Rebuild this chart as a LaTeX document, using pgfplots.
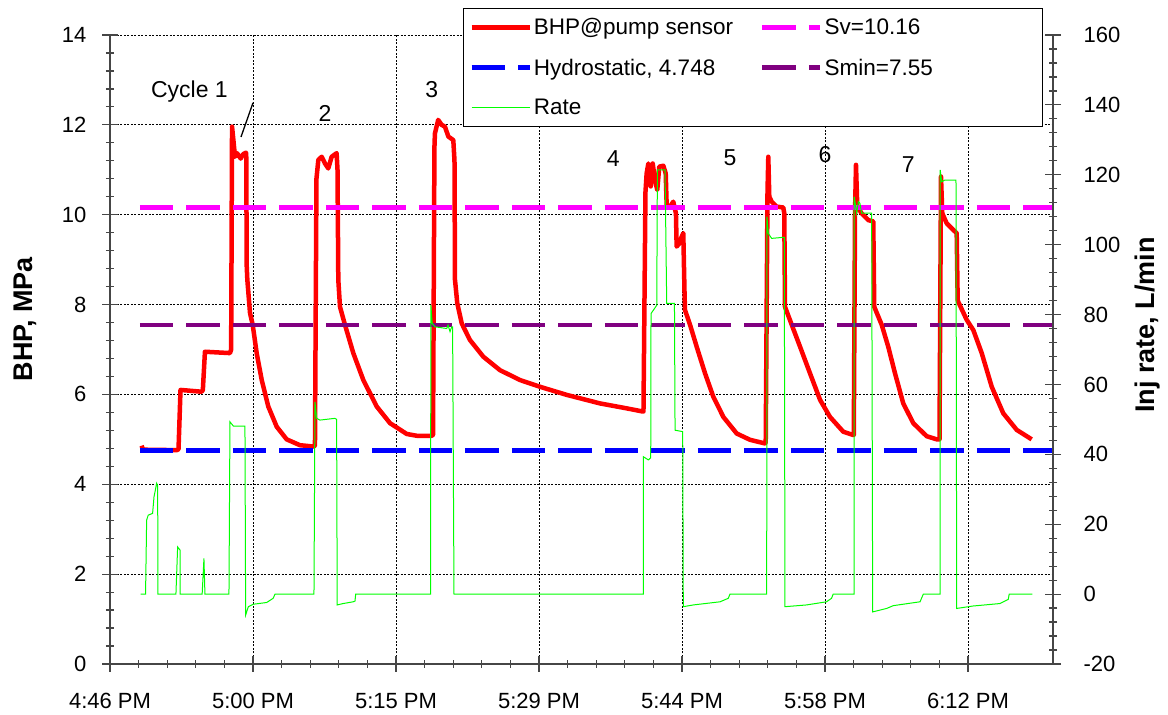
\documentclass[border=0pt]{standalone}
\usepackage{pgfplots}
\pgfplotsset{compat=1.18}
\usepackage{fontspec}
\setmainfont{Liberation Sans}

\definecolor{bhpred}{RGB}{255,0,0}
\definecolor{svmag}{RGB}{255,0,255}
\definecolor{hydblue}{RGB}{0,0,255}
\definecolor{sminpur}{RGB}{128,0,128}
\definecolor{rategreen}{RGB}{0,255,0}
\definecolor{axisgray}{RGB}{70,70,70}

\newcommand{\tickfont}{\fontsize{22}{26}\selectfont}
\newcommand{\legfont}{\fontsize{22.5}{27}\selectfont}
\newcommand{\labfont}{\fontsize{27}{32}\selectfont\bfseries}
\newcommand{\notefont}{\fontsize{23}{27}\selectfont}

% x is minutes after the 4:46 PM tick; one major tick every 14.4 min
\pgfplotsset{
  commonaxis/.style={
    scale only axis, width=943pt, height=629pt,
    at={(110pt,51pt)}, anchor=south west,
    xmin=0, xmax=94.96,
    tick label style={font=\tickfont},
    /pgf/number format/assume math mode=true,
    axis line style={axisgray, line width=1.2pt},
    tick style={axisgray, line width=1.2pt},
    tick align=center,
    major tick length=16pt,
    minor tick length=8pt,
  },
  levelline/.style={line width=4.5pt, dash pattern=on 33.5pt off 13pt},
}

\begin{document}
\begin{tikzpicture}
\useasboundingbox (0,0) rectangle (1168pt,715pt);

% ---------- pressure axis (left) ----------
\begin{axis}[commonaxis,
  axis x line*=bottom, axis y line*=left,
  ymin=0, ymax=14, ytick={0,2,...,14}, minor y tick num=4,
  xtick={0,14.4,28.8,43.2,57.6,72,86.4}, minor x tick num=4,
  xticklabels={4:46 PM,5:00 PM,5:15 PM,5:29 PM,5:44 PM,5:58 PM,6:12 PM},
  xticklabel style={yshift=-17.5pt},
  yticklabel style={xshift=-12pt},
  grid=major,
  grid style={black, line width=0.8pt, dash pattern=on 2pt off 1.5pt},
  every axis y label/.style={at={(rel axis cs:-0.0901,0.5485)}, rotate=90,
    anchor=center, font=\labfont},
  ylabel={BHP, MPa},
]
\addplot[bhpred, line width=4.5pt, line join=round] coordinates {
(3.19,4.86) (3.32,4.77) (6.72,4.76) (6.90,4.78) (7.10,6.10) (9.23,6.06)
(9.35,6.10) (9.56,6.95) (12.08,6.92) (12.20,7.00) (12.29,11.96) (12.59,11.29)
(12.79,11.37) (13.16,11.25) (13.42,11.35) (13.70,11.38) (13.72,11.30) (13.77,8.84)
(13.83,8.55) (14.10,7.81) (14.37,7.55) (14.77,6.92) (15.28,6.32) (15.94,5.73)
(16.79,5.28) (17.79,5.00) (19.13,4.87) (20.47,4.84) (20.64,4.86)
(20.79,10.80) (20.98,11.22) (21.32,11.29) (21.65,11.14) (21.98,11.03)
(22.32,11.29) (22.82,11.37) (22.91,11.00) (22.99,8.55) (23.16,7.95) (23.66,7.55)
(24.50,6.92) (25.51,6.32) (26.86,5.73) (28.20,5.36) (29.88,5.12) (30.88,5.08)
(32.39,5.08) (32.53,5.10) (32.67,11.50)
(32.72,11.81) (33.05,12.11) (33.39,12.00) (33.73,11.96) (34.07,11.74) (34.57,11.66)
(34.69,11.20) (34.74,8.55) (34.97,8.03) (35.42,7.58) (36.25,7.21) (37.59,6.84)
(39.27,6.54) (41.29,6.32) (43.30,6.17) (45.99,5.99) (49.34,5.80) (52.03,5.69)
(53.64,5.62) (53.72,5.62) (53.92,10.50) (54.04,10.92) (54.21,11.14) (54.45,10.63)
(54.65,11.14) (54.88,10.77) (55.11,10.55) (55.31,11.07) (55.72,11.09) (55.96,10.92)
(56.06,10.18) (56.39,10.18) (56.72,10.29) (56.99,10.03) (57.06,9.29) (57.33,9.36)
(57.57,9.51) (57.73,9.59) (57.85,8.30) (57.90,7.88) (58.41,7.55) (59.08,7.06)
(59.92,6.47) (60.75,5.95) (61.76,5.50) (63.11,5.13) (64.45,4.99) (65.93,4.91)
(66.03,4.92) (66.21,10.50) (66.29,11.29) (66.39,10.40) (66.63,10.29) (67.13,10.18)
(67.80,10.16) (67.90,10.03) (67.97,7.95) (68.65,7.55) (69.49,7.06) (70.49,6.47)
(71.50,5.88) (72.50,5.50) (73.84,5.17) (74.79,5.10) (74.90,5.10) (75.02,10.00)
(75.12,11.11) (75.25,10.18) (75.69,10.03) (76.36,9.88) (76.86,9.85) (76.96,7.95)
(77.71,7.55) (78.37,7.06) (79.05,6.47) (79.88,5.80) (80.89,5.36) (82.24,5.07)
(83.25,5.00) (83.53,5.00) (83.68,10.85) (83.81,10.03) (84.25,9.81)
(84.92,9.66) (85.26,9.59) (85.36,8.10) (85.42,8.06) (86.27,7.66) (86.94,7.43)
(87.78,6.92) (88.79,6.17) (89.95,5.58) (91.31,5.21) (92.81,5.00)
};
\addplot[svmag, levelline] coordinates {(3.02,10.16) (94.96,10.16)};
\addplot[hydblue, levelline] coordinates {(3.02,4.748) (94.96,4.748)};
\addplot[sminpur, levelline] coordinates {(3.02,7.55) (94.96,7.55)};

\node[font=\notefont] at (axis cs:8.0,12.75) {Cycle 1};
\draw[black, line width=1.3pt] (axis cs:14.40,12.49) -- (axis cs:13.19,11.73);
\node[font=\notefont] at (axis cs:21.65,12.26) {2};
\node[font=\notefont] at (axis cs:32.39,12.78) {3};
\node[font=\notefont] at (axis cs:50.68,11.26) {4};
\node[font=\notefont] at (axis cs:62.43,11.26) {5};
\node[font=\notefont] at (axis cs:72.00,11.33) {6};
\node[font=\notefont] at (axis cs:80.39,11.11) {7};
\end{axis}

% ---------- injection rate axis (right) ----------
\begin{axis}[commonaxis,
  axis x line=none, axis y line*=right,
  ymin=-20, ymax=160, ytick={-20,0,...,160}, minor y tick num=4,
  yticklabel style={xshift=19pt},
  every axis y label/.style={at={(rel axis cs:1.1007,0.539)}, rotate=90,
    anchor=center, font=\labfont},
  ylabel={Inj rate, L/min},
  legend columns=2, legend cell align=left,
  legend image code/.code={\draw[#1] (0pt,0pt) -- (58pt,0pt);},
  legend style={at={(0.3743,1.0429)}, anchor=north west, draw=black,
    line width=1pt, fill=white, font=\legfont, inner xsep=6pt, inner ysep=8pt,
    row sep=18.5pt, /tikz/every even column/.append style={column sep=25pt}},
]
\addlegendimage{bhpred, line width=4.5pt}
\addlegendentry{BHP@pump sensor}
\addlegendimage{svmag, levelline}
\addlegendentry{Sv=10.16}
\addlegendimage{hydblue, levelline}
\addlegendentry{Hydrostatic, 4.748}
\addlegendimage{sminpur, levelline}
\addlegendentry{Smin=7.55\hspace*{102pt}}
\addplot[rategreen, line width=1pt] coordinates {
(3.09,0) (3.58,0) (3.69,21.2) (3.85,22.6) (4.29,23.1) (4.43,27.8) (4.70,31.7)
(4.80,31.0) (4.83,0) (6.64,0) (6.81,13.5) (7.05,12.6) (7.07,0) (9.28,0)
(9.46,10.2) (9.56,0) (11.98,0) (12.08,49.3) (12.42,48.1) (13.59,48.1)
(13.66,-6.0) (13.93,-3.6) (14.43,-2.9) (15.78,-2.4) (16.43,-1.2) (16.62,0)
(20.54,0) (20.64,55.0) (20.81,50.3) (21.14,49.8) (22.65,50.3) (22.82,50.0)
(22.88,-3.1) (23.48,-2.7) (24.49,-2.2) (24.67,-2.0) (24.74,0) (32.28,0)
(32.31,82.7) (32.44,77.5) (32.72,76.5) (33.91,76.0) (34.04,77.0) (34.24,75.1)
(34.41,76.5) (34.50,76.5) (34.64,0) (53.70,0) (53.72,39.3) (54.21,38.4)
(54.45,39.0) (54.48,80.3) (54.73,81.3) (55.06,82.7) (55.12,121.4) (55.89,121.4)
(56.06,83.2) (56.84,83.2) (56.90,46.9) (57.67,46.5) (57.73,-3.6) (58.74,-3.1)
(61.43,-2.2) (62.26,-1.2) (62.43,0) (66.13,0) (66.15,108.0) (66.29,103.2)
(66.63,101.8) (67.80,102.1) (67.90,102.1) (67.97,-3.6) (70.14,-3.1) (72.15,-2.2)
(72.66,-1.2) (72.82,0) (74.92,0) (74.94,113.7) (75.19,109.0) (75.36,112.3)
(75.52,111.8) (75.69,109.0) (76.70,109.0) (76.80,-5.1) (78.21,-4.1) (78.88,-3.3)
(81.57,-2.2) (81.90,0) (83.58,0) (83.60,121.4) (83.75,118.0) (84.08,118.5)
(85.19,118.5) (85.26,-4.1) (86.92,-3.4) (89.62,-2.7) (90.45,-1.5) (90.55,0)
(92.87,0)
};
\addlegendentry{Rate}
\end{axis}
\end{tikzpicture}
\end{document}
